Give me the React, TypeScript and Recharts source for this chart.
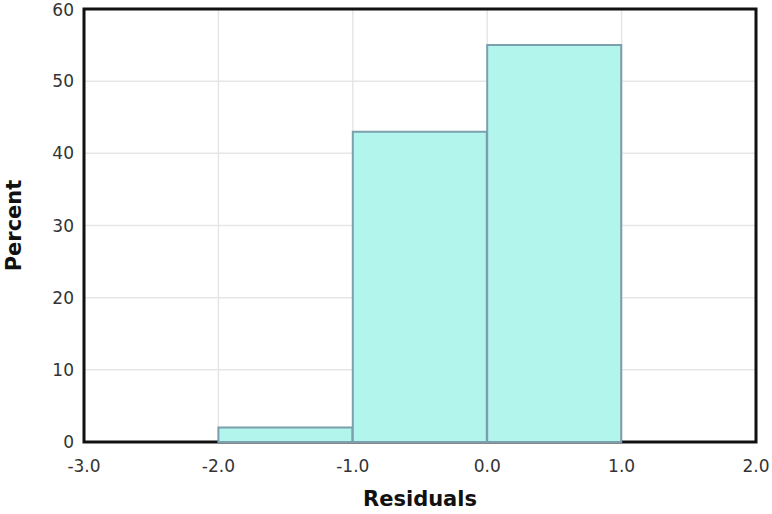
import React from 'react';
import {
	ComposedChart,
	Bar,
	XAxis,
	YAxis,
	CartesianGrid,
	ReferenceArea,
	Label,
} from 'recharts';

// histogram bins of residuals (left edge .. right edge) and percent in each
const binStarts = [-3, -2, -1, 0, 1];
const binEnds = [-2, -1, 0, 1, 2];
const percents = [0, 2, 43, 55, 0];

const xTicks = [-3, -2, -1, 0, 1, 2];
const yTicks = [0, 10, 20, 30, 40, 50, 60];

const data = binStarts.map((start, i) => ({
	bin: `${start}..${binEnds[i]}`,
	mid: (start + binEnds[i]) / 2,
	percent: percents[i],
}));

const font = '"DejaVu Sans", sans-serif';
const tickStyle = { fontSize: 17, fill: '#333', fontFamily: font };

export default function App() {
	return (
		<div style={{ position: 'absolute', left: 0, top: 0 }}>
			<ComposedChart
				width={772}
				height={514}
				data={data}
				barCategoryGap={0}
				barGap={0}
				margin={{ top: 9, right: 16, bottom: 0, left: 24 }}
			>
				<CartesianGrid
					xAxisId="num"
					stroke="#e6e6e6"
					strokeWidth={1.5}
					verticalValues={xTicks}
				/>

				<XAxis
					xAxisId="num"
					dataKey="mid"
					type="number"
					domain={[-3, 2]}
					allowDataOverflow
					ticks={xTicks}
					tickFormatter={(v: number) => v.toFixed(1)}
					tick={tickStyle}
					tickLine={false}
					axisLine={false}
					tickMargin={12}
					height={72}
				>
					<Label
						value="Residuals"
						position="insideBottom"
						offset={8}
						style={{ fontSize: 21, fontWeight: 'bold', fill: '#111', fontFamily: font }}
					/>
				</XAxis>

				<XAxis xAxisId="cat" dataKey="bin" hide height={0} />

				<YAxis
					domain={[0, 60]}
					ticks={yTicks}
					tick={tickStyle}
					tickLine={false}
					axisLine={false}
					tickMargin={4}
					width={60}
				>
					<Label
						value="Percent"
						angle={-90}
						position="insideLeft"
						offset={-10}
						style={{
							fontSize: 21,
							fontWeight: 'bold',
							fill: '#111',
							fontFamily: font,
							textAnchor: 'middle',
						}}
					/>
				</YAxis>

				<Bar
					xAxisId="cat"
					dataKey="percent"
					fill="#b2f5ec"
					stroke="#7c9fae"
					strokeWidth={2}
					isAnimationActive={false}
				/>

				<ReferenceArea
					xAxisId="num"
					x1={-3}
					x2={2}
					y1={0}
					y2={60}
					fill="none"
					stroke="#111"
					strokeWidth={3}
					ifOverflow="visible"
				/>
			</ComposedChart>
		</div>
	);
}
